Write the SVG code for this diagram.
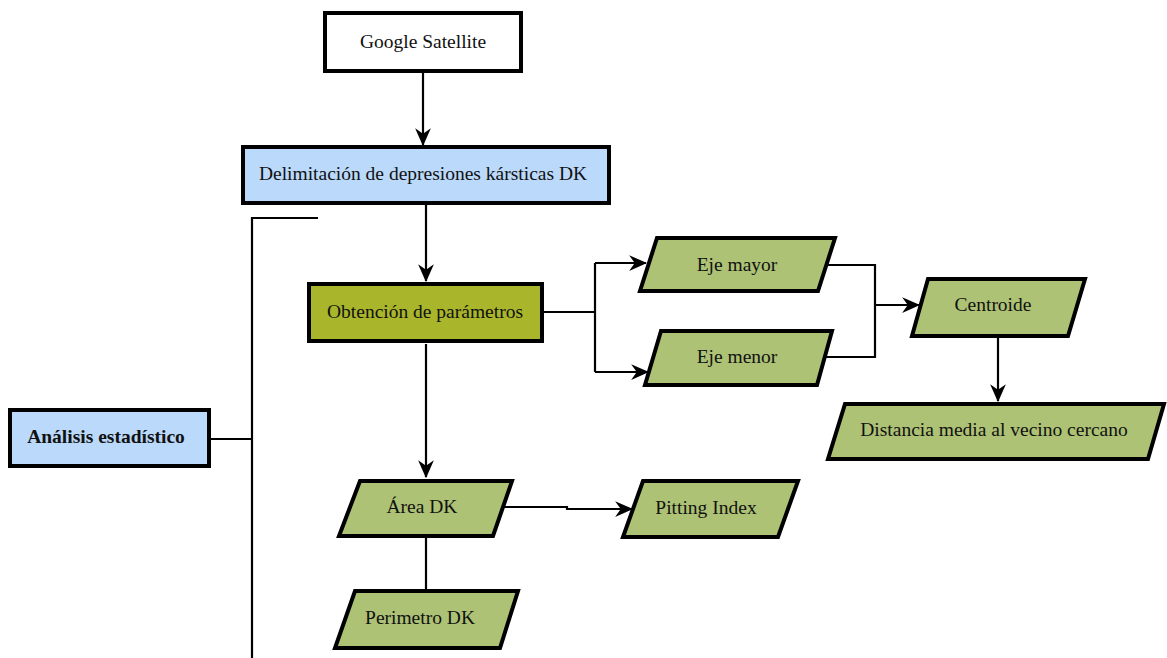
<svg xmlns="http://www.w3.org/2000/svg" width="1167" height="658" viewBox="0 0 1167 658">
  <style>
    .box { stroke: #000; stroke-width: 4; stroke-linejoin: miter; }
    .white { fill: #ffffff; }
    .blue { fill: #bad9fb; }
    .olive { fill: #a9b62b; }
    .green { fill: #adc274; }
    .wire { fill: none; stroke: #000; stroke-width: 2.2; }
  </style>
  <defs>
    <marker id="arrow" viewBox="0 0 16 16" refX="15" refY="8" markerWidth="18" markerHeight="18" markerUnits="userSpaceOnUse" orient="auto">
      <path d="M0,1 L16,8 L0,15 L5,8 z" fill="#000"/>
    </marker>
  </defs>

  <!-- connectors -->
  <g id="connectors">
    <path class="wire" d="M423,72 V145" marker-end="url(#arrow)"/>
    <path class="wire" d="M426,205 V281" marker-end="url(#arrow)"/>
    <path class="wire" d="M426,344 V477" marker-end="url(#arrow)"/>
    <path class="wire" d="M543,312 H595"/>
    <path class="wire" d="M595,263 V372"/>
    <path class="wire" d="M595,263 H646" marker-end="url(#arrow)"/>
    <path class="wire" d="M595,372 H648" marker-end="url(#arrow)"/>
    <path class="wire" d="M826,265 H875 V357 H824"/>
    <path class="wire" d="M875,305 H919" marker-end="url(#arrow)"/>
    <path class="wire" d="M998,337 V401" marker-end="url(#arrow)"/>
    <path class="wire" d="M503,507 H567 V509 H632" marker-end="url(#arrow)"/>
    <path class="wire" d="M426,537 V590"/>
    <path class="wire" d="M318,218 H252 V658"/>
    <path class="wire" d="M210,439 H252"/>
  </g>

  <!-- nodes; shared text settings on the wrapper -->
  <g font-family="Liberation Serif, Times New Roman, serif" font-size="19.5" fill="#111" text-anchor="middle">
    <g id="google-satellite">
      <rect class="box white" x="325" y="13" width="196" height="58"/>
      <text x="423" y="48" fill="#111">Google Satellite</text>
    </g>

    <g id="delimitacion">
      <rect class="box blue" x="243" y="147" width="366" height="56"/>
      <text x="423" y="180" fill="#111">Delimitación de depresiones kársticas DK</text>
    </g>

    <g id="obtencion">
      <rect class="box olive" x="309" y="284" width="233" height="57"/>
      <text x="425" y="318" fill="#111">Obtención de parámetros</text>
    </g>

    <g id="analisis">
      <rect class="box blue" x="10" y="410" width="199" height="56"/>
      <text x="106" y="443" font-weight="bold" fill="#111">Análisis estadístico</text>
    </g>

    <g id="eje-mayor">
      <polygon class="box green" points="657,238 835,238 818,291 640,291"/>
      <text x="737" y="271" fill="#111">Eje mayor</text>
    </g>

    <g id="eje-menor">
      <polygon class="box green" points="661,331 832,331 817,385 645,385"/>
      <text x="737" y="363" fill="#111">Eje menor</text>
    </g>

    <g id="centroide">
      <polygon class="box green" points="928,279 1085,279 1068,336 912,336"/>
      <text x="993" y="311" fill="#111">Centroide</text>
    </g>

    <g id="distancia">
      <polygon class="box green" points="845,404 1164,404 1148,459 828,459"/>
      <text x="994" y="436" fill="#111">Distancia media al vecino cercano</text>
    </g>

    <g id="area-dk">
      <polygon class="box green" points="360,481 512,481 493,536 339,536"/>
      <text x="422" y="513" fill="#111">Área DK</text>
    </g>

    <g id="pitting-index">
      <polygon class="box green" points="643,481 798,481 778,537 623,537"/>
      <text x="706" y="514" fill="#111">Pitting Index</text>
    </g>

    <g id="perimetro-dk">
      <polygon class="box green" points="355,591 518,591 500,648 335,648"/>
      <text x="420" y="624" fill="#111">Perimetro DK</text>
    </g>
  </g>
</svg>
